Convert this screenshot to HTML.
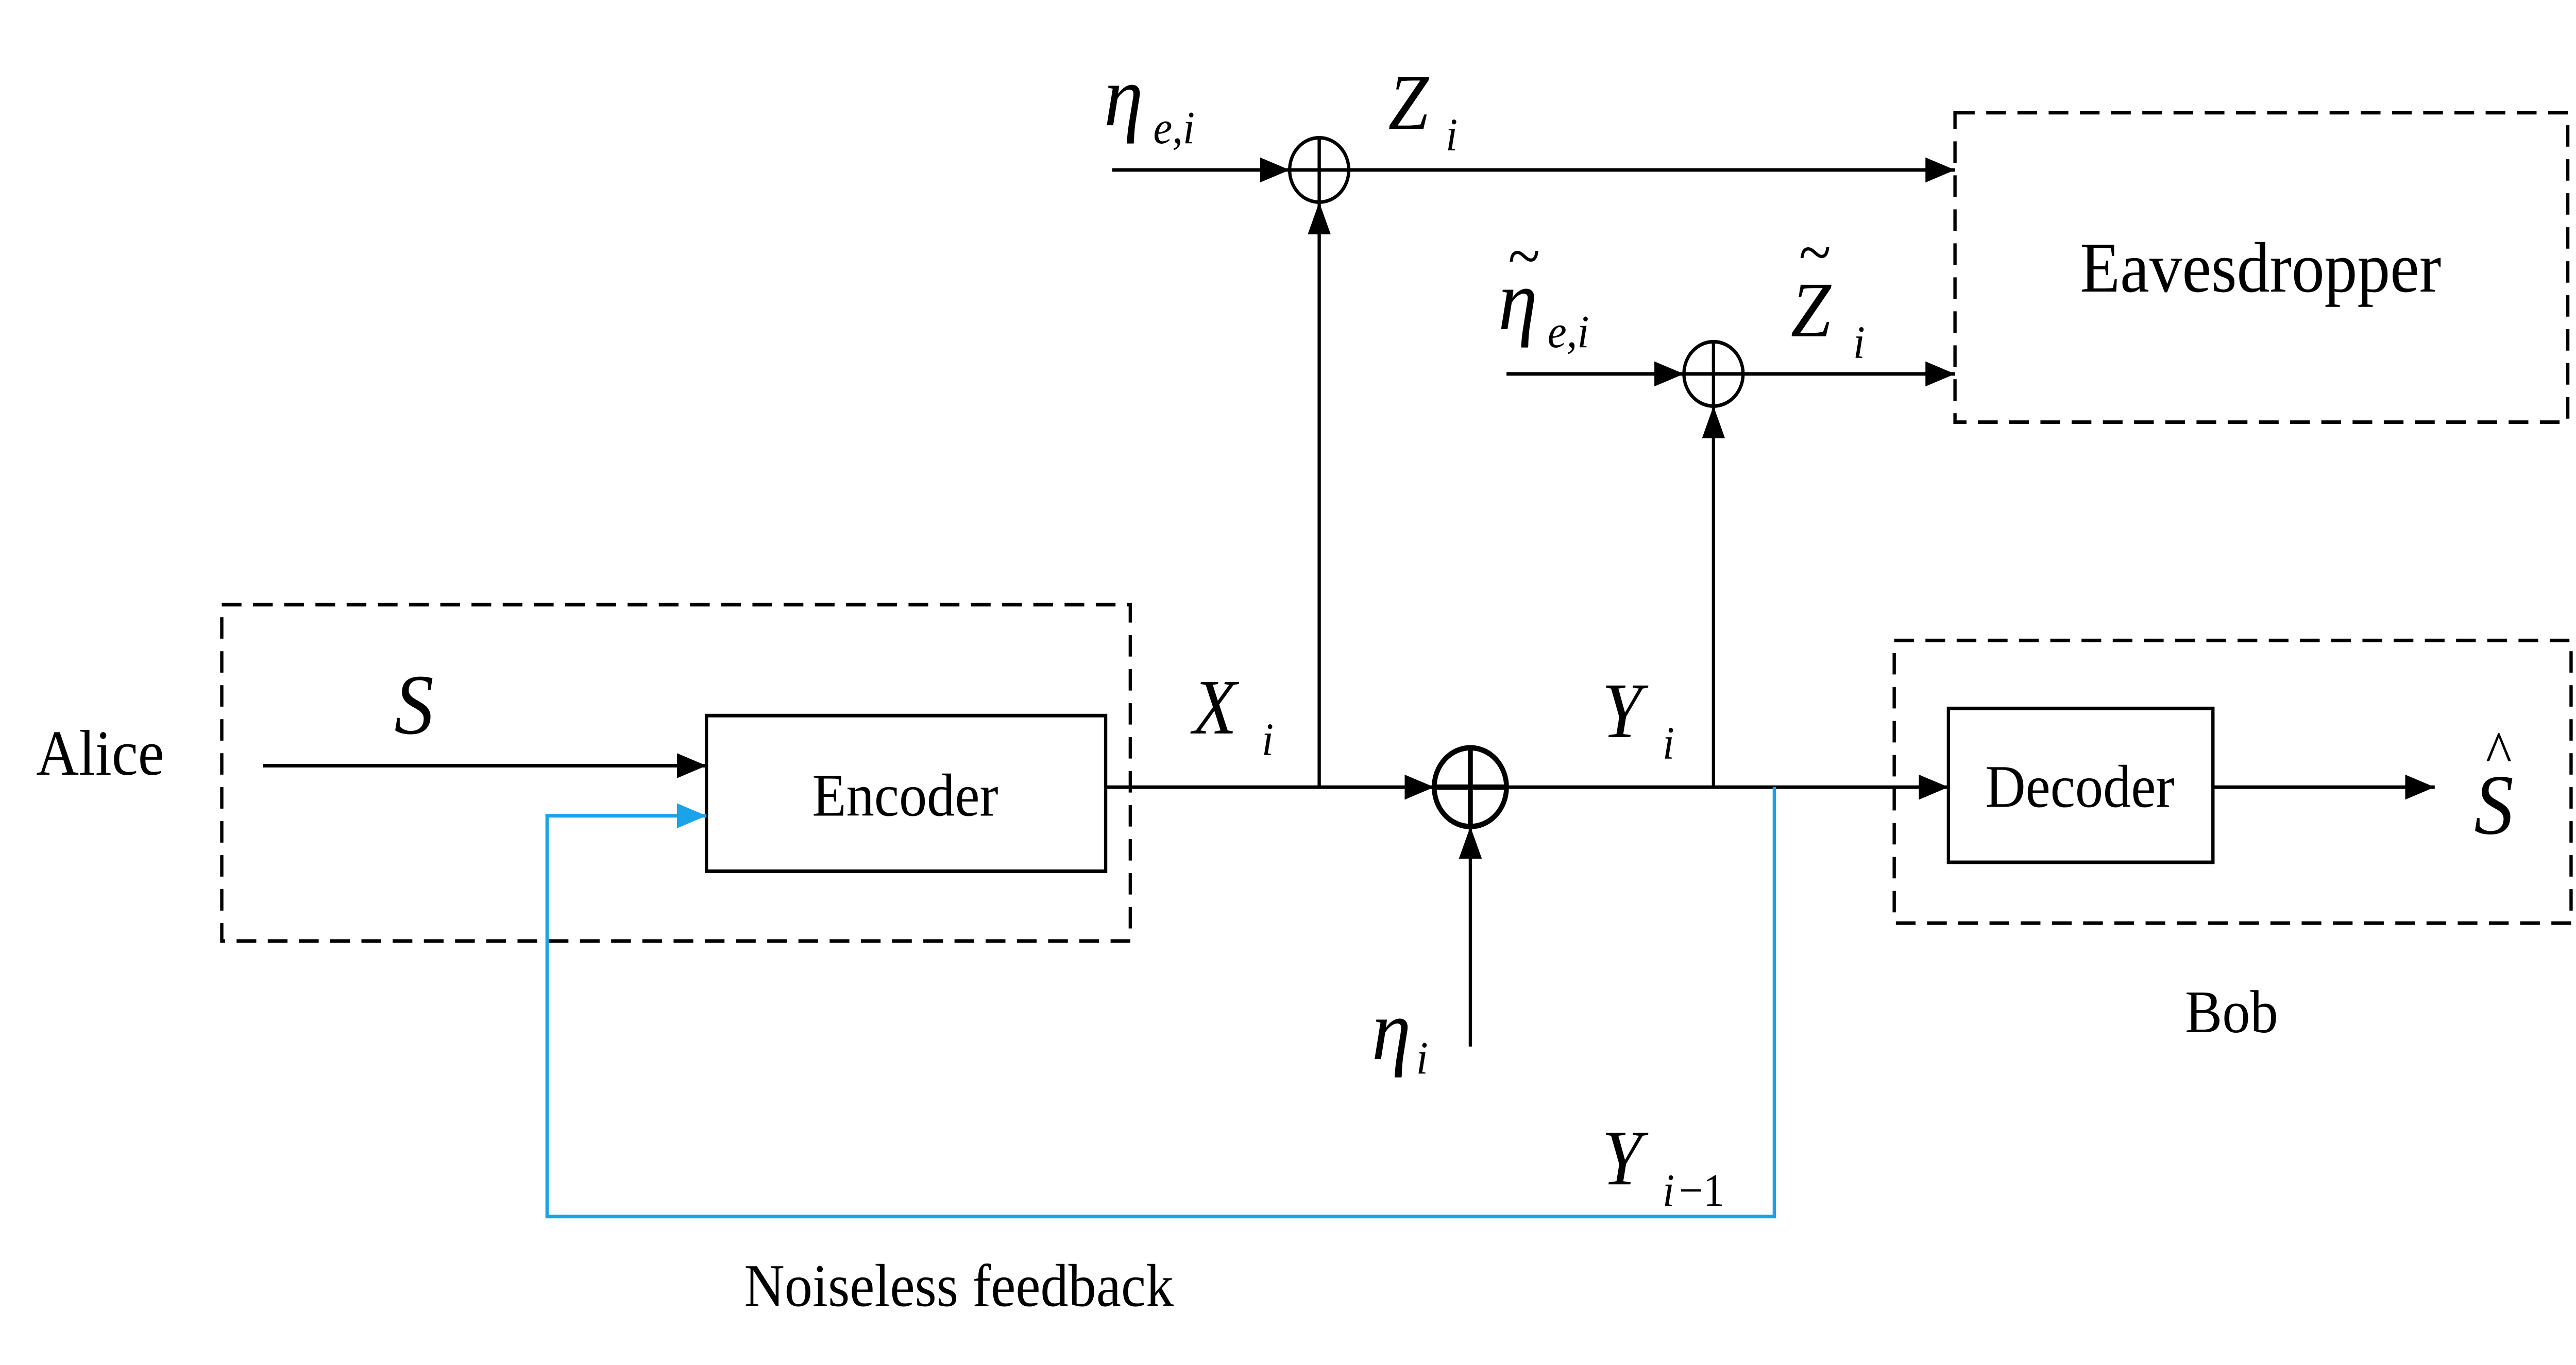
<!DOCTYPE html>
<html><head><meta charset="utf-8">
<style>
html,body{margin:0;padding:0;background:#fff;width:100%;height:100%;overflow:hidden;}
svg{position:fixed;left:0;top:0;width:100vw;height:100vh;display:block;}
text{font-family:"Liberation Serif",serif;fill:#000;}
.it{font-style:italic;}
</style></head>
<body>
<svg viewBox="0 0 1568 763" preserveAspectRatio="none" xmlns="http://www.w3.org/2000/svg">
<defs>
<marker id="ab" markerWidth="18" markerHeight="14" refX="18" refY="7" orient="auto" markerUnits="userSpaceOnUse">
<path d="M0,0 L18,7 L0,14 z" fill="#000"/>
</marker>
<marker id="bb" markerWidth="18" markerHeight="14" refX="18" refY="7" orient="auto" markerUnits="userSpaceOnUse">
<path d="M0,0 L18,7 L0,14 z" fill="#1aa3e8"/>
</marker>
</defs>
<g fill="none" stroke="#000" stroke-width="2">
<rect x="135" y="338" width="553" height="188" stroke-dasharray="12,7"/>
<rect x="1190" y="63" width="373" height="173" stroke-dasharray="12,7"/>
<rect x="1153" y="358" width="412" height="158" stroke-dasharray="12,7"/>
<rect x="430" y="400" width="243" height="87"/>
<rect x="1186" y="396" width="161" height="86"/>
<circle cx="895" cy="440" r="22" stroke-width="3"/>
<line x1="873" y1="440" x2="917" y2="440" stroke-width="3"/>
<line x1="895" y1="418" x2="895" y2="462" stroke-width="3"/>
<circle cx="803" cy="95" r="18"/>
<line x1="785" y1="95" x2="821" y2="95"/>
<line x1="803" y1="77" x2="803" y2="113"/>
<circle cx="1043" cy="209" r="18"/>
<line x1="1025" y1="209" x2="1061" y2="209"/>
<line x1="1043" y1="191" x2="1043" y2="227"/>
<line x1="160" y1="428" x2="430" y2="428" marker-end="url(#ab)"/>
<line x1="673" y1="440" x2="873" y2="440" marker-end="url(#ab)"/>
<line x1="803" y1="440" x2="803" y2="113" marker-end="url(#ab)"/>
<line x1="677" y1="95" x2="785" y2="95" marker-end="url(#ab)"/>
<line x1="821" y1="95" x2="1190" y2="95" marker-end="url(#ab)"/>
<line x1="917" y1="209" x2="1025" y2="209" marker-end="url(#ab)"/>
<line x1="1061" y1="209" x2="1190" y2="209" marker-end="url(#ab)"/>
<line x1="1043" y1="440" x2="1043" y2="227" marker-end="url(#ab)"/>
<line x1="917" y1="440" x2="1186" y2="440" marker-end="url(#ab)"/>
<line x1="895" y1="585" x2="895" y2="462" marker-end="url(#ab)"/>
<line x1="1347" y1="440" x2="1482" y2="440" marker-end="url(#ab)"/>
<polyline points="1080,440 1080,680 333,680 333,456 430,456" stroke="#1aa3e8" marker-end="url(#bb)"/>
</g>
<text x="22" y="433" font-size="36">Alice</text>
<text x="240" y="410" font-size="48" class="it">S</text>
<text x="551" y="456" font-size="34" text-anchor="middle">Encoder</text>
<text x="1266" y="451" font-size="34" text-anchor="middle">Decoder</text>
<text x="1376" y="163" font-size="40" text-anchor="middle">Eavesdropper</text>
<text x="1330" y="577" font-size="34">Bob</text>
<text x="453" y="730" font-size="34">Noiseless feedback</text>
<text x="726" y="410" font-size="44" class="it">X</text><text x="768" y="422" font-size="26" class="it">i</text>
<text x="975" y="412" font-size="44" class="it">Y</text><text x="1012" y="424" font-size="26" class="it">i</text>
<text x="975" y="662" font-size="44" class="it">Y</text><text x="1012" y="674" font-size="26" class="it">i</text><text x="1022" y="674" font-size="26">−1</text>
<text x="835" y="592" font-size="48" class="it">η</text><text x="862" y="600" font-size="26" class="it">i</text>
<text x="672" y="70" font-size="48" class="it">η</text><text x="702" y="80" font-size="26" class="it">e,i</text>
<text x="845" y="72" font-size="44" class="it">Z</text><text x="880" y="84" font-size="26" class="it">i</text>
<text x="912" y="184" font-size="48" class="it">η</text><text x="942" y="194" font-size="26" class="it">e,i</text>
<text x="918" y="155" font-size="36">~</text>
<text x="1090" y="188" font-size="44" class="it">Z</text><text x="1128" y="200" font-size="26" class="it">i</text>
<text x="1095" y="153" font-size="36">~</text>
<text x="1506" y="466" font-size="48" class="it">S</text>
<text x="1513" y="432" font-size="34">^</text>
</svg>
</body></html>
